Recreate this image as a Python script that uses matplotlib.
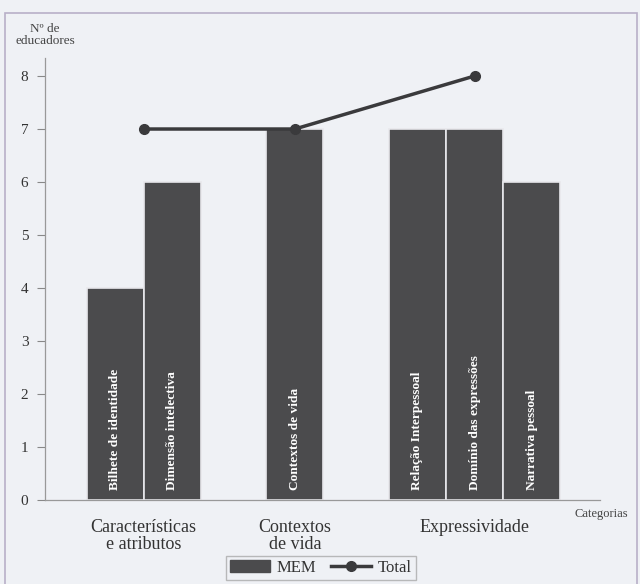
import numpy as np
import matplotlib.pyplot as plt
from matplotlib.patches import Rectangle

plt.rcParams['font.family'] = ['Liberation Serif', 'DejaVu Serif']

# data
groups = ['Características\ne atributos', 'Contextos\nde vida', 'Expressividade']
subcats = [['Bilhete de identidade', 'Dimensão intelectiva'],
           ['Contextos de vida'],
           ['Relação Interpessoal', 'Domínio das expressões', 'Narrativa pessoal']]
mem = [[4, 6], [7], [7, 7, 6]]
total = [7, 7, 8]

bar_col = '#4b4b4d'
bg = '#eff1f5'
gap = 1.15

# bar positions, groups laid out one after another
xs, centers = [], []
start = 0.0
for g in subcats:
    pos = start + np.arange(len(g))
    xs.append(pos)
    centers.append(pos.mean())
    start = pos[-1] + 1 + gap

fig = plt.figure(figsize=(6.4, 5.84), dpi=100, facecolor=bg)
ax = fig.add_axes([45/640, 1 - 500/584, 555/640, 442/584])
ax.set_facecolor(bg)

for pos, vals, names in zip(xs, mem, subcats):
    ax.bar(pos, vals, width=1.0, color=bar_col, edgecolor='#e8e8ec', linewidth=1.2, zorder=2)
    for p, name in zip(pos, names):
        ax.text(p, 0.19, name, rotation=90, ha='center', va='bottom', color='white',
                fontsize=9.6, fontweight='bold', zorder=3)

ax.plot(centers, total, color='#3a3a3c', lw=2.5, marker='o', ms=7, zorder=4)

ax.set_xlim(-1.23, 8.5)
ax.set_ylim(0, 8.34)
ax.set_yticks(range(9))
ax.set_xticks([])
ax.tick_params(axis='y', direction='out', length=6, width=0.8, colors='#888888',
               labelcolor='#333333', labelsize=11, pad=6)
for s in ['top', 'right']:
    ax.spines[s].set_visible(False)
for s in ['left', 'bottom']:
    ax.spines[s].set_color('#999999')
    ax.spines[s].set_linewidth(0.9)

for c, g in zip(centers, groups):
    ax.text(c, -0.36, g, ha='center', va='top', fontsize=13, color='#333333',
            linespacing=1.0)
fig.text(601/640, 1 - 514/584, 'Categorias', ha='center', va='center', fontsize=9,
         color='#444444')
fig.text(45/640, 1 - 23/584, 'Nº de\neducadores', ha='center', va='top', fontsize=9.5,
         color='#444444', linespacing=1.0)

# legend
h_bar = Rectangle((0, 0), 1, 1, color=bar_col)
h_line, = ax.plot([], [], color='#3a3a3c', lw=2.5, marker='o', ms=7)
leg = fig.legend([h_bar, h_line], ['MEM', 'Total'], loc='center',
                 bbox_to_anchor=(321/640, 1 - 568/584), ncol=2, frameon=True,
                 fancybox=False, fontsize=12, handlelength=2.4, handletextpad=0.4,
                 columnspacing=0.9, borderpad=0.25, edgecolor='#aaaaaa')
leg.get_frame().set_facecolor(bg)
for t in leg.get_texts():
    t.set_color('#333333')

# outer frame
fig.patches.append(Rectangle((5/640, -5/584), 632/640, 576/584, transform=fig.transFigure,
                             fill=False, edgecolor='#b8b0c8', linewidth=1.2))

fig.savefig('out.png', dpi=100, facecolor=bg)
